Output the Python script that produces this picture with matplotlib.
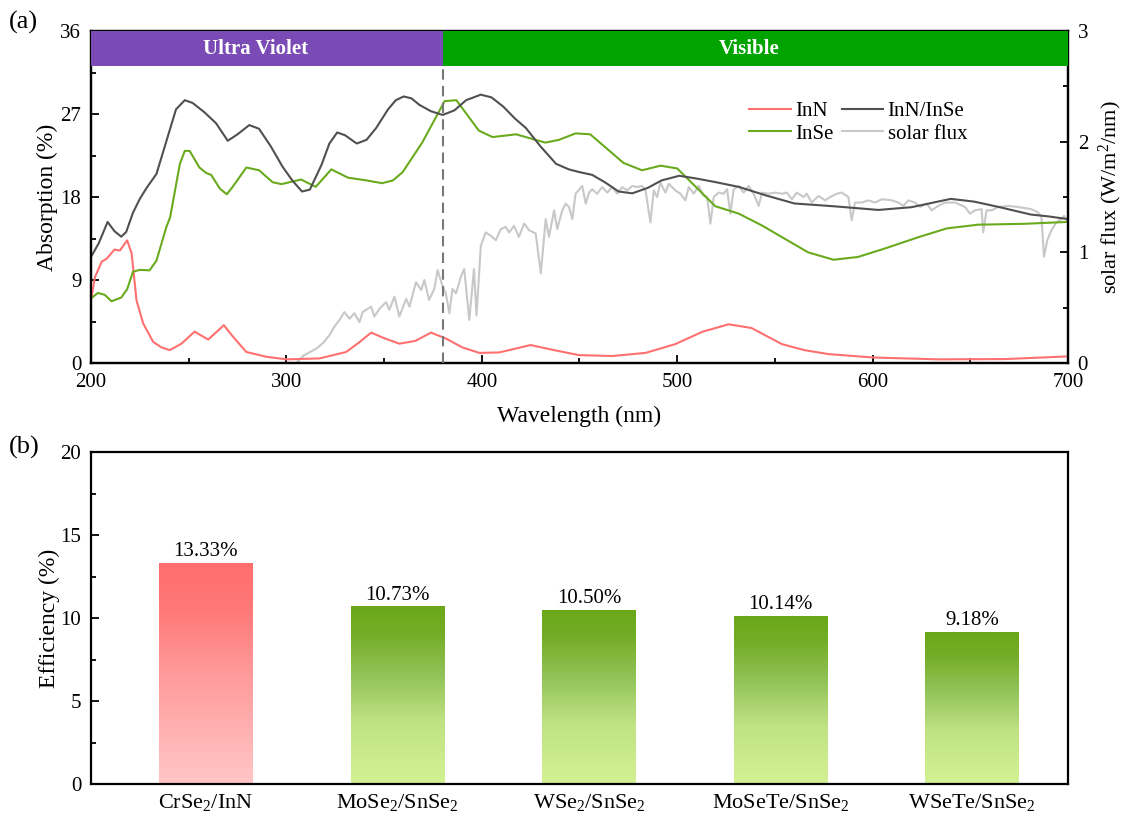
import numpy as np
import matplotlib.pyplot as plt
from matplotlib.colors import LinearSegmentedColormap
from matplotlib.lines import Line2D
from matplotlib.ticker import MultipleLocator

plt.rcParams['font.family'] = ['Liberation Serif', 'DejaVu Serif']
plt.rcParams['mathtext.fontset'] = 'custom'
plt.rcParams['mathtext.rm'] = 'Liberation Serif'
plt.rcParams['mathtext.it'] = 'Liberation Serif:italic'

# absorption spectra (%)
inn_wl = [200, 202, 205.5, 208, 212, 214.8, 218.5, 220.8, 223.3, 226.7, 231.8, 236, 240.3,
          246.3, 253, 260, 268, 272.7, 279.5, 289.7, 300, 317, 330.6, 337, 343.4, 350, 357.8,
          366, 374, 381.7, 390, 398.7, 408.9, 425, 437, 449.7, 466.8, 483.8, 499, 513, 526.3,
          538, 553.6, 565, 577.4, 600.4, 633.6, 667.6, 700]
inn_abs = [6.8, 9.3, 11.0, 11.3, 12.3, 12.2, 13.3, 11.9, 6.8, 4.3, 2.3, 1.7, 1.4,
           2.1, 3.4, 2.55, 4.1, 2.85, 1.2, 0.68, 0.4, 0.5, 1.2, 2.2, 3.3, 2.7, 2.1,
           2.4, 3.3, 2.65, 1.7, 1.1, 1.15, 1.95, 1.4, 0.86, 0.76, 1.1, 2.05, 3.4, 4.2,
           3.8, 2.05, 1.4, 0.97, 0.6, 0.4, 0.43, 0.72]

inse_wl = [200, 203.5, 207, 210.5, 215.5, 218.5, 221.5, 225, 230, 233.5, 238.5, 240.5, 245.5,
           248, 250.5, 255.5, 259, 261.5, 266, 269.5, 272.5, 279.5, 286, 293, 297.5, 307.5,
           315, 323, 331.5, 341, 349, 354.5, 359.5, 369.5, 381, 387, 398.5, 405.5, 417.5,
           432.5, 439.5, 448, 455.5, 472.5, 482, 491.5, 500, 519.5, 531.5, 543.5, 567, 580,
           592.5, 606, 623.5, 638, 654, 678, 700]
inse_abs = [7.0, 7.6, 7.4, 6.7, 7.1, 8.0, 9.9, 10.1, 10.05, 11.1, 14.7, 15.8, 21.6,
            23.0, 23.0, 21.2, 20.6, 20.4, 18.9, 18.3, 19.1, 21.2, 20.9, 19.6, 19.4, 19.9,
            19.1, 21.0, 20.1, 19.8, 19.5, 19.8, 20.7, 23.9, 28.4, 28.5, 25.2, 24.5, 24.8,
            23.9, 24.2, 24.9, 24.8, 21.7, 20.9, 21.4, 21.1, 17.0, 16.2, 14.9, 12.0, 11.2,
            11.5, 12.4, 13.65, 14.6, 15.0, 15.1, 15.3]

het_wl = [200, 204, 208.5, 212, 215.5, 218, 221.5, 225, 228.5, 233.5, 238.5, 243.5, 248, 252,
          258, 264, 270, 275, 281, 286, 292, 298, 303, 308, 312, 318, 322, 326, 330, 336, 341,
          346, 352, 356, 360, 364, 368, 374, 380, 386, 392, 399.5, 405, 411, 417, 422.5, 430,
          438, 444.5, 450, 456.5, 463, 470, 477, 485, 492, 501, 510, 520, 531.5, 545, 560,
          580, 603, 620, 640, 652, 665, 681, 690, 700]
het_abs = [11.5, 13.0, 15.3, 14.3, 13.7, 14.2, 16.3, 17.8, 19.0, 20.5, 24.0, 27.5, 28.5, 28.2,
           27.2, 26.0, 24.1, 24.8, 25.8, 25.4, 23.5, 21.3, 19.8, 18.6, 18.8, 21.5, 23.8, 25.0,
           24.7, 23.8, 24.2, 25.5, 27.5, 28.5, 28.9, 28.7, 28.0, 27.3, 26.9, 27.4, 28.5, 29.1,
           28.8, 27.8, 26.5, 25.5, 23.5, 21.6, 21.0, 20.7, 20.4, 19.6, 18.6, 18.4, 19.0, 19.8,
           20.3, 20.0, 19.6, 19.1, 18.2, 17.3, 17.0, 16.6, 16.9, 17.8, 17.5, 16.9, 16.1, 15.9,
           15.6]

# AM1.5 solar flux (W/m^2/nm)
sun_wl = [305, 309, 315.3, 318.7, 322, 324.6, 327.2, 329.7, 332.3, 334.8, 337.4, 339, 343.4,
          345, 347.6, 351, 352.7, 355.3, 357.8, 361.3, 363, 366.3, 369, 370.6, 373, 375.7,
          377.4, 380, 381.6, 383.4, 385, 386.8, 389.3, 391, 393.6, 396, 397.3, 399.5, 402,
          404.6, 407.2, 409.7, 412.3, 414, 416.5, 419, 421.7, 424.2, 427.6, 430.2, 432.7,
          434.4, 437, 438.6, 441.2, 442.9, 444.6, 446.3, 448, 451.4, 453.2, 454.9, 456.5,
          459, 461.6, 464.2, 466.8, 469.3, 471.9, 474.4, 477, 479.5, 482, 483.8, 486.3, 488,
          489.7, 491.4, 494, 495.7, 499, 501.6, 504.2, 505.9, 508.5, 511, 513.6, 515.3, 517,
          518.7, 521.2, 523.8, 525.5, 527.2, 528.9, 531.5, 534, 536.6, 539.1, 541.7, 543.4,
          546.8, 550.2, 553.6, 556.1, 558.7, 561.2, 564.7, 566.3, 568.9, 572.3, 575.7, 578.3,
          581.7, 584.2, 587.6, 589.3, 591, 594.4, 597.9, 601.3, 604.7, 609.8, 613.2, 615.8,
          618.3, 621.7, 624.3, 627.7, 630.2, 633.6, 637, 642.2, 647.3, 649.8, 652.4, 655.8,
          656.6, 658.3, 660.9, 664.3, 669.4, 674.5, 681.3, 684.7, 686.4, 687.7, 689.4, 691.5,
          694, 696.6, 698, 700]
sun_flux = [0.0, 0.07, 0.13, 0.18, 0.25, 0.33, 0.39, 0.46, 0.40, 0.45, 0.37, 0.46, 0.51,
            0.42, 0.49, 0.55, 0.48, 0.60, 0.42, 0.58, 0.51, 0.73, 0.66, 0.75, 0.57, 0.67,
            0.84, 0.69, 0.63, 0.45, 0.67, 0.63, 0.78, 0.85, 0.39, 0.85, 0.43, 1.06, 1.18,
            1.15, 1.11, 1.21, 1.23, 1.18, 1.24, 1.14, 1.26, 1.20, 1.17, 0.81, 1.30,
            1.14, 1.38, 1.21, 1.38, 1.44, 1.41, 1.30, 1.53, 1.60, 1.44, 1.54, 1.57,
            1.53, 1.59, 1.54, 1.59, 1.53, 1.59, 1.56, 1.60, 1.59, 1.60, 1.56, 1.27, 1.56,
            1.50, 1.63, 1.54, 1.62, 1.56, 1.53, 1.47, 1.59, 1.53, 1.60, 1.51, 1.50, 1.26,
            1.50, 1.54, 1.53, 1.57, 1.35, 1.57, 1.60, 1.54, 1.60, 1.53, 1.42, 1.54,
            1.53, 1.54, 1.53, 1.54, 1.48, 1.54, 1.50, 1.53, 1.45, 1.51, 1.47, 1.50,
            1.53, 1.54, 1.50, 1.29, 1.45, 1.45, 1.47, 1.45, 1.48, 1.47, 1.45, 1.42,
            1.47, 1.45, 1.41, 1.44, 1.38, 1.42, 1.45, 1.45, 1.41, 1.35, 1.38, 1.39,
            1.18, 1.38, 1.38, 1.41, 1.42, 1.41, 1.39, 1.36, 1.32, 0.96, 1.11, 1.20,
            1.27, 1.30, 1.33, 1.27]

# power conversion efficiencies
devices = ['CrSe$_2$/InN', 'MoSe$_2$/SnSe$_2$', 'WSe$_2$/SnSe$_2$',
           'MoSeTe/SnSe$_2$', 'WSeTe/SnSe$_2$']
efficiency = [13.33, 10.73, 10.50, 10.14, 9.18]

fig = plt.figure(figsize=(11.26, 8.16), dpi=100)
ax1 = fig.add_axes([0.0808, 0.5551, 0.8677, 0.4069])
ax2 = fig.add_axes([0.0808, 0.0392, 0.8677, 0.4068])

# ---- (a) absorption spectra ----
ax1.plot(inn_wl, inn_abs, color='#ff7070', lw=1.5, label='InN')
ax1.plot(inse_wl, inse_abs, color='#6aaa1e', lw=1.5, label='InSe')
ax1.plot(het_wl, het_abs, color='#505050', lw=1.5, label='InN/InSe')
ax1.set_xlim(200, 700)
ax1.set_ylim(0, 36)

band_lo = 32.2
ax1.fill_between([200, 380], band_lo, 36, color='#7b4bb5', lw=0, zorder=5)
ax1.fill_between([380, 700], band_lo, 36, color='#00a300', lw=0, zorder=5)
ax1.text(284, 34.1, 'Ultra Violet', color='white', fontsize=15, fontweight='bold',
         ha='center', va='center', zorder=6)
ax1.text(537, 34.1, 'Visible', color='white', fontsize=15, fontweight='bold',
         ha='center', va='center', zorder=6)
ax1.plot([380, 380], [0, band_lo], color='#777777', lw=1.5, ls=(0, (5, 3)), zorder=4)

ax1.set_xlabel('Wavelength (nm)', fontsize=17, labelpad=10)
ax1.set_ylabel('Absorption (%)', fontsize=17, labelpad=2)
ax1.xaxis.set_major_locator(MultipleLocator(100))
ax1.xaxis.set_minor_locator(MultipleLocator(50))
ax1.yaxis.set_major_locator(MultipleLocator(9))
ax1.yaxis.set_minor_locator(MultipleLocator(4.5))

axs = ax1.twinx()
axs.plot(sun_wl, sun_flux, color='#c8c8c8', lw=1.5)
axs.set_ylim(0, 3)
axs.yaxis.set_major_locator(MultipleLocator(1))
axs.yaxis.set_minor_locator(MultipleLocator(0.5))
axs.set_ylabel('solar flux (W/m$^2$/nm)', fontsize=16, labelpad=6)
ax1.set_zorder(axs.get_zorder() + 1)
ax1.patch.set_visible(False)

handles = [Line2D([], [], color='#ff7070', lw=1.5),
           Line2D([], [], color='#6aaa1e', lw=1.5),
           Line2D([], [], color='#505050', lw=1.5),
           Line2D([], [], color='#c8c8c8', lw=1.5)]
ax1.legend(handles, ['InN', 'InSe', 'InN/InSe', 'solar flux'], ncol=2, frameon=False,
           fontsize=15, handlelength=2.0, columnspacing=0.4, handletextpad=0.2,
           labelspacing=0.15, loc='upper right', bbox_to_anchor=(0.916, 0.845))

for a in (ax1, axs, ax2):
    for s in a.spines.values():
        s.set_linewidth(1.6)
    a.tick_params(which='both', direction='in', labelsize=15, width=1.3, pad=7)
    a.tick_params(which='major', length=6)
    a.tick_params(which='minor', length=3.5)
ax1.tick_params(which='both', right=False, top=False)

# ---- (b) efficiency bars ----
red_cmap = LinearSegmentedColormap.from_list(
    'red_grad', [(0, '#ffc6c6'), (0.5, '#ff9a9a'), (0.8, '#ff7777'), (1, '#ff6e6e')])
green_cmap = LinearSegmentedColormap.from_list(
    'green_grad', [(0, '#d4f294'), (0.35, '#bfe282'), (0.6, '#93c45a'), (0.85, '#73ac25'), (1, '#6aa818')])

x = np.arange(len(devices))
bars = ax2.bar(x, efficiency, width=0.49, color='none', edgecolor='none')
grad = np.linspace(0, 1, 256).reshape(-1, 1)
for i, (b, val) in enumerate(zip(bars, efficiency)):
    cmap = red_cmap if i == 0 else green_cmap
    img = ax2.imshow(grad, cmap=cmap, origin='lower', aspect='auto',
                     extent=[b.get_x(), b.get_x() + b.get_width(), 0, val], zorder=2)
    img.set_clip_path(b)
    ax2.text(b.get_x() + b.get_width() / 2, val + 0.08, f'{val:.2f}%',
             ha='center', va='bottom', fontsize=15)

ax2.set_xlim(-0.6, 4.5)
ax2.set_ylim(0, 20)
ax2.set_xticks(x)
ax2.set_xticklabels(devices, fontsize=16)
ax2.tick_params(axis='x', which='both', length=0, pad=6)
ax2.yaxis.set_major_locator(MultipleLocator(5))
ax2.yaxis.set_minor_locator(MultipleLocator(2.5))
ax2.set_ylabel('Efficiency (%)', fontsize=17, labelpad=0)

fig.text(0.008, 0.972, '(a)', fontsize=19, ha='left', va='center')
fig.text(0.008, 0.452, '(b)', fontsize=19, ha='left', va='center')

fig.savefig('out.png', dpi=100)
